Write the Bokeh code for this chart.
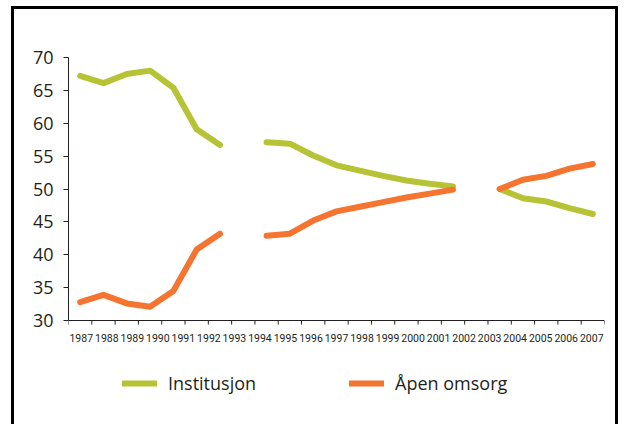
import numpy as np
from bokeh.plotting import figure
from bokeh.models import (Range1d, LinearAxis, FixedTicker, Legend, LegendItem, Span)
from bokeh.core.properties import value
from bokeh.embed import file_html
from bokeh.resources import INLINE

years = ["1987", "1988", "1989", "1990", "1991", "1992", "1993", "1994", "1995", "1996",
         "1997", "1998", "1999", "2000", "2001", "2002", "2003", "2004", "2005", "2006", "2007"]
institusjon = [67.2, 66.1, 67.5, 68.0, 65.4, 59.1, 56.7, None,
               57.1, 56.9, 55.1, 53.6, 52.8, 52.0, 51.3, 50.8, 50.4, None,
               50.0, 48.6, 48.1, 47.1, 46.2]
apen_omsorg = [32.8, 33.9, 32.6, 32.1, 34.5, 40.8, 43.2, None,
               42.9, 43.2, 45.2, 46.6, 47.3, 48.0, 48.7, 49.3, 49.9, None,
               50.0, 51.4, 52.0, 53.1, 53.8]
y_ticks = [30, 35, 40, 45, 50, 55, 60, 65, 70]

GREEN = "#b5c334"
ORANGE = "#f47430"
TEXT = "#231f20"

inst = np.array(institusjon, dtype=float)
apen = np.array(apen_omsorg, dtype=float)
xs = np.arange(len(inst))
n_slots = len(inst)
n_years = len(years)

# layout: the frame runs to the bottom of the canvas, so that the legend (drawn inside the
# frame) is not clipped; the value axis covers y_ticks[0]..y_ticks[-1] over AXIS_PX pixels
AXIS_PX = 263
BELOW_PX = 107
y_lo, y_hi = y_ticks[0], y_ticks[-1]
y_start = y_lo - BELOW_PX * (y_hi - y_lo) / AXIS_PX

p = figure(width=607, height=418, x_range=Range1d(-0.5, n_slots - 0.5), y_range=Range1d(y_start, y_hi),
           x_axis_type=None, y_axis_type=None, output_backend="svg", toolbar_location=None,
           min_border_left=54, min_border_right=17, min_border_top=48, min_border_bottom=0)
p.outline_line_color = None
p.background_fill_color = "white"
p.border_fill_color = "white"
p.styles = {"margin-left": "11px", "margin-top": "6px",
            "border-top": "3px solid black", "border-left": "3px solid black",
            "border-right": "3px solid black"}

yaxis = LinearAxis(ticker=FixedTicker(ticks=y_ticks), bounds=(y_lo, y_hi),
                   major_tick_out=5, major_tick_in=0,
                   minor_tick_line_color=None, axis_line_color=TEXT, major_tick_line_color=TEXT,
                   major_label_text_font="Open Sans", major_label_text_font_size="18px",
                   major_label_text_color=TEXT, major_label_standoff=10)
p.add_layout(yaxis, "left")

# category axis line at the bottom of the value range
p.add_layout(Span(location=y_lo, dimension="width", line_color=TEXT, line_width=1))

# small tick marks at the boundaries of the data slots
slot_edges = [j - 0.5 for j in range(n_slots + 1)]
p.ray(x=slot_edges, y=[y_lo] * len(slot_edges), length=4, length_units="screen",
      angle=-np.pi / 2, line_color=TEXT, line_width=1)

# year labels spread evenly over the axis (one bin per year)
p.extra_x_ranges = {"yrs": Range1d(0, n_years)}
lab_pos = [i + 0.5 for i in range(n_years)]
p.text(x=lab_pos, y=[y_lo] * n_years, text=years, x_range_name="yrs", y_offset=17,
       text_align="center", text_baseline="middle", text_font=value("Roboto"),
       text_font_size=value("10.5px"), text_color=TEXT)

r1 = p.line(xs, inst, line_color=GREEN, line_width=6, line_cap="round", line_join="round")
r2 = p.line(xs, apen, line_color=ORANGE, line_width=6, line_cap="round", line_join="round")

legend = Legend(items=[LegendItem(label="Institusjon", renderers=[r1]),
                       LegendItem(label="Åpen omsorg", renderers=[r2])],
                location=(54, 32), orientation="horizontal", padding=0, margin=0, spacing=93,
                border_line_color=None, background_fill_alpha=0, glyph_width=35, glyph_height=10,
                label_standoff=11, label_text_font="Open Sans", label_text_font_size="18px",
                label_text_color=TEXT)
p.add_layout(legend)

open("out.html", "w").write(file_html(p, INLINE))
